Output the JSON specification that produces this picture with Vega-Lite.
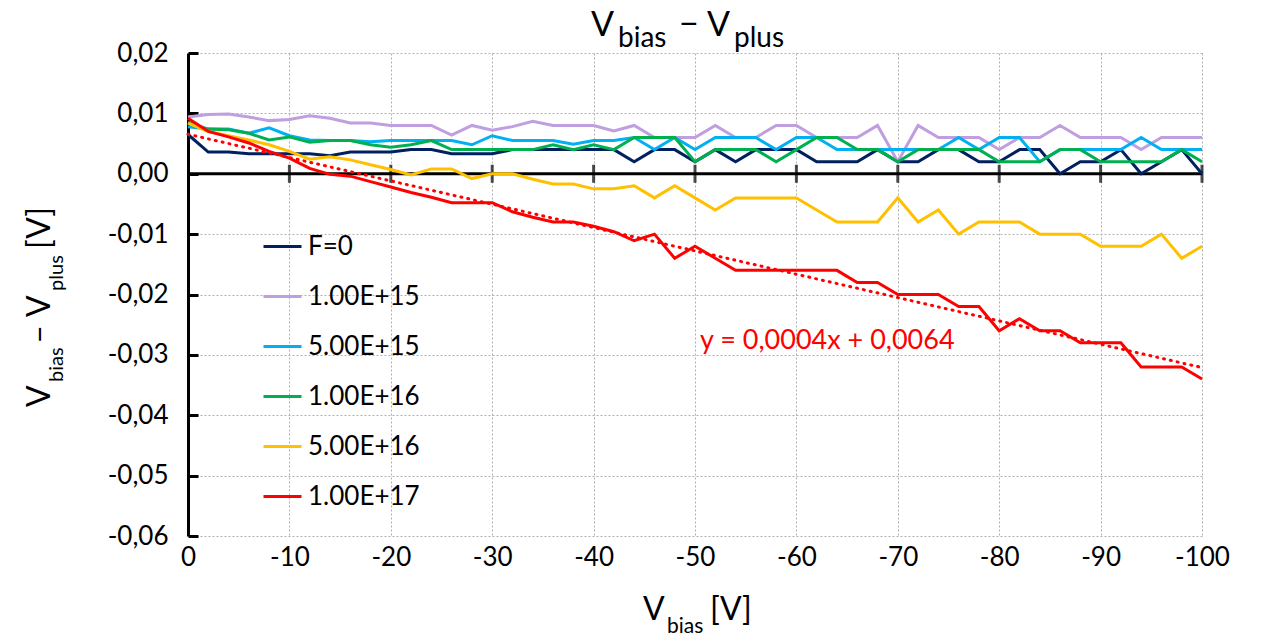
{
  "$schema": "https://vega.github.io/schema/vega-lite/v6.json",
  "width": 1014,
  "height": 483,
  "autosize": {"type": "none"},
  "padding": {"left": 188, "top": 53, "right": 74, "bottom": 106},
  "background": "white",
  "config": {
    "font": "Lato",
    "view": {"stroke": null},
    "locale": {"number": {"decimal": ",", "thousands": ".", "grouping": [3], "currency": ["", " €"], "minus": "-"}},
    "text": {"font": "Lato", "color": "black"}
  },
  "datasets": {
    "meas": [
      {"V":0,"F":"F=0","d":0.0065},{"V":-2,"F":"F=0","d":0.0036},{"V":-4,"F":"F=0","d":0.0036},{"V":-6,"F":"F=0","d":0.0033},{"V":-8,"F":"F=0","d":0.0033},{"V":-10,"F":"F=0","d":0.0033},{"V":-12,"F":"F=0","d":0.0033},{"V":-14,"F":"F=0","d":0.003},{"V":-16,"F":"F=0","d":0.0036},{"V":-18,"F":"F=0","d":0.0036},{"V":-20,"F":"F=0","d":0.0036},{"V":-22,"F":"F=0","d":0.004},{"V":-24,"F":"F=0","d":0.004},{"V":-26,"F":"F=0","d":0.0033},{"V":-28,"F":"F=0","d":0.0033},{"V":-30,"F":"F=0","d":0.0033},{"V":-32,"F":"F=0","d":0.004},{"V":-34,"F":"F=0","d":0.004},{"V":-36,"F":"F=0","d":0.004},{"V":-38,"F":"F=0","d":0.004},{"V":-40,"F":"F=0","d":0.004},{"V":-42,"F":"F=0","d":0.004},{"V":-44,"F":"F=0","d":0.002},{"V":-46,"F":"F=0","d":0.004},{"V":-48,"F":"F=0","d":0.004},{"V":-50,"F":"F=0","d":0.002},{"V":-52,"F":"F=0","d":0.004},{"V":-54,"F":"F=0","d":0.002},{"V":-56,"F":"F=0","d":0.004},{"V":-58,"F":"F=0","d":0.004},{"V":-60,"F":"F=0","d":0.004},{"V":-62,"F":"F=0","d":0.002},{"V":-64,"F":"F=0","d":0.002},{"V":-66,"F":"F=0","d":0.002},{"V":-68,"F":"F=0","d":0.004},{"V":-70,"F":"F=0","d":0.002},{"V":-72,"F":"F=0","d":0.002},{"V":-74,"F":"F=0","d":0.004},{"V":-76,"F":"F=0","d":0.004},{"V":-78,"F":"F=0","d":0.002},{"V":-80,"F":"F=0","d":0.002},{"V":-82,"F":"F=0","d":0.004},{"V":-84,"F":"F=0","d":0.004},{"V":-86,"F":"F=0","d":0},{"V":-88,"F":"F=0","d":0.002},{"V":-90,"F":"F=0","d":0.002},{"V":-92,"F":"F=0","d":0.004},{"V":-94,"F":"F=0","d":0},{"V":-96,"F":"F=0","d":0.002},{"V":-98,"F":"F=0","d":0.004},{"V":-100,"F":"F=0","d":0},
      {"V":0,"F":"1.00E+15","d":0.0094},{"V":-2,"F":"1.00E+15","d":0.0098},{"V":-4,"F":"1.00E+15","d":0.0099},{"V":-6,"F":"1.00E+15","d":0.0094},{"V":-8,"F":"1.00E+15","d":0.0088},{"V":-10,"F":"1.00E+15","d":0.009},{"V":-12,"F":"1.00E+15","d":0.0096},{"V":-14,"F":"1.00E+15","d":0.0092},{"V":-16,"F":"1.00E+15","d":0.0084},{"V":-18,"F":"1.00E+15","d":0.0084},{"V":-20,"F":"1.00E+15","d":0.008},{"V":-22,"F":"1.00E+15","d":0.008},{"V":-24,"F":"1.00E+15","d":0.008},{"V":-26,"F":"1.00E+15","d":0.0064},{"V":-28,"F":"1.00E+15","d":0.008},{"V":-30,"F":"1.00E+15","d":0.0072},{"V":-32,"F":"1.00E+15","d":0.0078},{"V":-34,"F":"1.00E+15","d":0.0087},{"V":-36,"F":"1.00E+15","d":0.008},{"V":-38,"F":"1.00E+15","d":0.008},{"V":-40,"F":"1.00E+15","d":0.008},{"V":-42,"F":"1.00E+15","d":0.0071},{"V":-44,"F":"1.00E+15","d":0.008},{"V":-46,"F":"1.00E+15","d":0.006},{"V":-48,"F":"1.00E+15","d":0.006},{"V":-50,"F":"1.00E+15","d":0.006},{"V":-52,"F":"1.00E+15","d":0.008},{"V":-54,"F":"1.00E+15","d":0.006},{"V":-56,"F":"1.00E+15","d":0.006},{"V":-58,"F":"1.00E+15","d":0.008},{"V":-60,"F":"1.00E+15","d":0.008},{"V":-62,"F":"1.00E+15","d":0.006},{"V":-64,"F":"1.00E+15","d":0.006},{"V":-66,"F":"1.00E+15","d":0.006},{"V":-68,"F":"1.00E+15","d":0.008},{"V":-70,"F":"1.00E+15","d":0.002},{"V":-72,"F":"1.00E+15","d":0.008},{"V":-74,"F":"1.00E+15","d":0.006},{"V":-76,"F":"1.00E+15","d":0.006},{"V":-78,"F":"1.00E+15","d":0.006},{"V":-80,"F":"1.00E+15","d":0.004},{"V":-82,"F":"1.00E+15","d":0.006},{"V":-84,"F":"1.00E+15","d":0.006},{"V":-86,"F":"1.00E+15","d":0.008},{"V":-88,"F":"1.00E+15","d":0.006},{"V":-90,"F":"1.00E+15","d":0.006},{"V":-92,"F":"1.00E+15","d":0.006},{"V":-94,"F":"1.00E+15","d":0.004},{"V":-96,"F":"1.00E+15","d":0.006},{"V":-98,"F":"1.00E+15","d":0.006},{"V":-100,"F":"1.00E+15","d":0.006},
      {"V":0,"F":"5.00E+15","d":0.0078},{"V":-2,"F":"5.00E+15","d":0.0074},{"V":-4,"F":"5.00E+15","d":0.0074},{"V":-6,"F":"5.00E+15","d":0.0067},{"V":-8,"F":"5.00E+15","d":0.0076},{"V":-10,"F":"5.00E+15","d":0.0063},{"V":-12,"F":"5.00E+15","d":0.0056},{"V":-14,"F":"5.00E+15","d":0.0055},{"V":-16,"F":"5.00E+15","d":0.0055},{"V":-18,"F":"5.00E+15","d":0.0053},{"V":-20,"F":"5.00E+15","d":0.0055},{"V":-22,"F":"5.00E+15","d":0.0055},{"V":-24,"F":"5.00E+15","d":0.0055},{"V":-26,"F":"5.00E+15","d":0.0055},{"V":-28,"F":"5.00E+15","d":0.0048},{"V":-30,"F":"5.00E+15","d":0.0063},{"V":-32,"F":"5.00E+15","d":0.0055},{"V":-34,"F":"5.00E+15","d":0.0055},{"V":-36,"F":"5.00E+15","d":0.0055},{"V":-38,"F":"5.00E+15","d":0.0049},{"V":-40,"F":"5.00E+15","d":0.0055},{"V":-42,"F":"5.00E+15","d":0.0055},{"V":-44,"F":"5.00E+15","d":0.006},{"V":-46,"F":"5.00E+15","d":0.004},{"V":-48,"F":"5.00E+15","d":0.006},{"V":-50,"F":"5.00E+15","d":0.004},{"V":-52,"F":"5.00E+15","d":0.006},{"V":-54,"F":"5.00E+15","d":0.006},{"V":-56,"F":"5.00E+15","d":0.006},{"V":-58,"F":"5.00E+15","d":0.004},{"V":-60,"F":"5.00E+15","d":0.006},{"V":-62,"F":"5.00E+15","d":0.006},{"V":-64,"F":"5.00E+15","d":0.004},{"V":-66,"F":"5.00E+15","d":0.004},{"V":-68,"F":"5.00E+15","d":0.004},{"V":-70,"F":"5.00E+15","d":0.004},{"V":-72,"F":"5.00E+15","d":0.004},{"V":-74,"F":"5.00E+15","d":0.004},{"V":-76,"F":"5.00E+15","d":0.006},{"V":-78,"F":"5.00E+15","d":0.004},{"V":-80,"F":"5.00E+15","d":0.006},{"V":-82,"F":"5.00E+15","d":0.006},{"V":-84,"F":"5.00E+15","d":0.002},{"V":-86,"F":"5.00E+15","d":0.004},{"V":-88,"F":"5.00E+15","d":0.004},{"V":-90,"F":"5.00E+15","d":0.004},{"V":-92,"F":"5.00E+15","d":0.004},{"V":-94,"F":"5.00E+15","d":0.006},{"V":-96,"F":"5.00E+15","d":0.004},{"V":-98,"F":"5.00E+15","d":0.004},{"V":-100,"F":"5.00E+15","d":0.004},
      {"V":0,"F":"1.00E+16","d":0.0085},{"V":-2,"F":"1.00E+16","d":0.0074},{"V":-4,"F":"1.00E+16","d":0.0073},{"V":-6,"F":"1.00E+16","d":0.0067},{"V":-8,"F":"1.00E+16","d":0.0056},{"V":-10,"F":"1.00E+16","d":0.0061},{"V":-12,"F":"1.00E+16","d":0.0052},{"V":-14,"F":"1.00E+16","d":0.0055},{"V":-16,"F":"1.00E+16","d":0.0055},{"V":-18,"F":"1.00E+16","d":0.0048},{"V":-20,"F":"1.00E+16","d":0.0044},{"V":-22,"F":"1.00E+16","d":0.0048},{"V":-24,"F":"1.00E+16","d":0.0055},{"V":-26,"F":"1.00E+16","d":0.004},{"V":-28,"F":"1.00E+16","d":0.004},{"V":-30,"F":"1.00E+16","d":0.004},{"V":-32,"F":"1.00E+16","d":0.004},{"V":-34,"F":"1.00E+16","d":0.004},{"V":-36,"F":"1.00E+16","d":0.0048},{"V":-38,"F":"1.00E+16","d":0.004},{"V":-40,"F":"1.00E+16","d":0.0048},{"V":-42,"F":"1.00E+16","d":0.004},{"V":-44,"F":"1.00E+16","d":0.006},{"V":-46,"F":"1.00E+16","d":0.006},{"V":-48,"F":"1.00E+16","d":0.006},{"V":-50,"F":"1.00E+16","d":0.002},{"V":-52,"F":"1.00E+16","d":0.004},{"V":-54,"F":"1.00E+16","d":0.004},{"V":-56,"F":"1.00E+16","d":0.004},{"V":-58,"F":"1.00E+16","d":0.002},{"V":-60,"F":"1.00E+16","d":0.004},{"V":-62,"F":"1.00E+16","d":0.006},{"V":-64,"F":"1.00E+16","d":0.006},{"V":-66,"F":"1.00E+16","d":0.004},{"V":-68,"F":"1.00E+16","d":0.004},{"V":-70,"F":"1.00E+16","d":0.002},{"V":-72,"F":"1.00E+16","d":0.004},{"V":-74,"F":"1.00E+16","d":0.004},{"V":-76,"F":"1.00E+16","d":0.004},{"V":-78,"F":"1.00E+16","d":0.004},{"V":-80,"F":"1.00E+16","d":0.002},{"V":-82,"F":"1.00E+16","d":0.002},{"V":-84,"F":"1.00E+16","d":0.002},{"V":-86,"F":"1.00E+16","d":0.004},{"V":-88,"F":"1.00E+16","d":0.004},{"V":-90,"F":"1.00E+16","d":0.002},{"V":-92,"F":"1.00E+16","d":0.002},{"V":-94,"F":"1.00E+16","d":0.002},{"V":-96,"F":"1.00E+16","d":0.002},{"V":-98,"F":"1.00E+16","d":0.004},{"V":-100,"F":"1.00E+16","d":0.002},
      {"V":0,"F":"5.00E+16","d":0.0084},{"V":-2,"F":"5.00E+16","d":0.007},{"V":-4,"F":"5.00E+16","d":0.0063},{"V":-6,"F":"5.00E+16","d":0.0056},{"V":-8,"F":"5.00E+16","d":0.0048},{"V":-10,"F":"5.00E+16","d":0.0037},{"V":-12,"F":"5.00E+16","d":0.0024},{"V":-14,"F":"5.00E+16","d":0.0028},{"V":-16,"F":"5.00E+16","d":0.0023},{"V":-18,"F":"5.00E+16","d":0.0015},{"V":-20,"F":"5.00E+16","d":0.0007},{"V":-22,"F":"5.00E+16","d":-0.0002},{"V":-24,"F":"5.00E+16","d":0.0008},{"V":-26,"F":"5.00E+16","d":0.0008},{"V":-28,"F":"5.00E+16","d":-0.0008},{"V":-30,"F":"5.00E+16","d":0},{"V":-32,"F":"5.00E+16","d":0},{"V":-34,"F":"5.00E+16","d":-0.0009},{"V":-36,"F":"5.00E+16","d":-0.0017},{"V":-38,"F":"5.00E+16","d":-0.0017},{"V":-40,"F":"5.00E+16","d":-0.0025},{"V":-42,"F":"5.00E+16","d":-0.0025},{"V":-44,"F":"5.00E+16","d":-0.002},{"V":-46,"F":"5.00E+16","d":-0.004},{"V":-48,"F":"5.00E+16","d":-0.002},{"V":-50,"F":"5.00E+16","d":-0.004},{"V":-52,"F":"5.00E+16","d":-0.006},{"V":-54,"F":"5.00E+16","d":-0.004},{"V":-56,"F":"5.00E+16","d":-0.004},{"V":-58,"F":"5.00E+16","d":-0.004},{"V":-60,"F":"5.00E+16","d":-0.004},{"V":-62,"F":"5.00E+16","d":-0.006},{"V":-64,"F":"5.00E+16","d":-0.008},{"V":-66,"F":"5.00E+16","d":-0.008},{"V":-68,"F":"5.00E+16","d":-0.008},{"V":-70,"F":"5.00E+16","d":-0.004},{"V":-72,"F":"5.00E+16","d":-0.008},{"V":-74,"F":"5.00E+16","d":-0.006},{"V":-76,"F":"5.00E+16","d":-0.01},{"V":-78,"F":"5.00E+16","d":-0.008},{"V":-80,"F":"5.00E+16","d":-0.008},{"V":-82,"F":"5.00E+16","d":-0.008},{"V":-84,"F":"5.00E+16","d":-0.01},{"V":-86,"F":"5.00E+16","d":-0.01},{"V":-88,"F":"5.00E+16","d":-0.01},{"V":-90,"F":"5.00E+16","d":-0.012},{"V":-92,"F":"5.00E+16","d":-0.012},{"V":-94,"F":"5.00E+16","d":-0.012},{"V":-96,"F":"5.00E+16","d":-0.01},{"V":-98,"F":"5.00E+16","d":-0.014},{"V":-100,"F":"5.00E+16","d":-0.012},
      {"V":0,"F":"1.00E+17","d":0.0092},{"V":-2,"F":"1.00E+17","d":0.007},{"V":-4,"F":"1.00E+17","d":0.0061},{"V":-6,"F":"1.00E+17","d":0.0051},{"V":-8,"F":"1.00E+17","d":0.0037},{"V":-10,"F":"1.00E+17","d":0.0026},{"V":-12,"F":"1.00E+17","d":0.0009},{"V":-14,"F":"1.00E+17","d":-0.0001},{"V":-16,"F":"1.00E+17","d":-0.0004},{"V":-18,"F":"1.00E+17","d":-0.0013},{"V":-20,"F":"1.00E+17","d":-0.0022},{"V":-22,"F":"1.00E+17","d":-0.0031},{"V":-24,"F":"1.00E+17","d":-0.0039},{"V":-26,"F":"1.00E+17","d":-0.0048},{"V":-28,"F":"1.00E+17","d":-0.0048},{"V":-30,"F":"1.00E+17","d":-0.0048},{"V":-32,"F":"1.00E+17","d":-0.0063},{"V":-34,"F":"1.00E+17","d":-0.0072},{"V":-36,"F":"1.00E+17","d":-0.008},{"V":-38,"F":"1.00E+17","d":-0.008},{"V":-40,"F":"1.00E+17","d":-0.0087},{"V":-42,"F":"1.00E+17","d":-0.0096},{"V":-44,"F":"1.00E+17","d":-0.0111},{"V":-46,"F":"1.00E+17","d":-0.01},{"V":-48,"F":"1.00E+17","d":-0.014},{"V":-50,"F":"1.00E+17","d":-0.012},{"V":-52,"F":"1.00E+17","d":-0.014},{"V":-54,"F":"1.00E+17","d":-0.016},{"V":-56,"F":"1.00E+17","d":-0.016},{"V":-58,"F":"1.00E+17","d":-0.016},{"V":-60,"F":"1.00E+17","d":-0.016},{"V":-62,"F":"1.00E+17","d":-0.016},{"V":-64,"F":"1.00E+17","d":-0.016},{"V":-66,"F":"1.00E+17","d":-0.018},{"V":-68,"F":"1.00E+17","d":-0.018},{"V":-70,"F":"1.00E+17","d":-0.02},{"V":-72,"F":"1.00E+17","d":-0.02},{"V":-74,"F":"1.00E+17","d":-0.02},{"V":-76,"F":"1.00E+17","d":-0.022},{"V":-78,"F":"1.00E+17","d":-0.022},{"V":-80,"F":"1.00E+17","d":-0.026},{"V":-82,"F":"1.00E+17","d":-0.024},{"V":-84,"F":"1.00E+17","d":-0.026},{"V":-86,"F":"1.00E+17","d":-0.026},{"V":-88,"F":"1.00E+17","d":-0.028},{"V":-90,"F":"1.00E+17","d":-0.028},{"V":-92,"F":"1.00E+17","d":-0.028},{"V":-94,"F":"1.00E+17","d":-0.032},{"V":-96,"F":"1.00E+17","d":-0.032},{"V":-98,"F":"1.00E+17","d":-0.032},{"V":-100,"F":"1.00E+17","d":-0.034}
    ],
    "crossticks": [{"V":-10},{"V":-20},{"V":-30},{"V":-40},{"V":-50},{"V":-60},{"V":-70},{"V":-80},{"V":-90},{"V":-100}],
    "one": [{}]
  },
  "encoding": {
    "x": {"type": "quantitative", "scale": {"domain": [0, -100], "nice": false, "zero": false},
      "axis": {"values": [0,-10,-20,-30,-40,-50,-60,-70,-80,-90,-100], "format": "d", "title": null, "labelFontSize": 26, "labelColor": "black", "labelPadding": 8, "ticks": false, "domain": false, "grid": true, "gridColor": "#b0b0b0", "gridDash": [2, 2], "gridWidth": 1, "labelFlush": false}},
    "y": {"type": "quantitative", "scale": {"domain": [-0.06, 0.02], "nice": false, "zero": false},
      "axis": {"values": [-0.06,-0.05,-0.04,-0.03,-0.02,-0.01,0,0.01,0.02], "format": ".2f", "title": null, "labelFontSize": 26, "labelColor": "black", "labelPadding": 30, "ticks": true, "tickSize": -10, "tickWidth": 3, "tickColor": "black", "domain": true, "domainColor": "black", "domainWidth": 3, "grid": true, "gridColor": "#b0b0b0", "gridDash": [2, 2], "gridWidth": 1}}
  },
  "layer": [
    {
      "data": {"name": "one"},
      "mark": {"type": "rule", "color": "black", "strokeWidth": 3},
      "encoding": {"y": {"datum": 0}}
    },
    {
      "data": {"name": "crossticks"},
      "mark": {"type": "tick", "orient": "vertical", "color": "black", "thickness": 3, "size": 18},
      "encoding": {"x": {"field": "V"}, "y": {"datum": 0}}
    },
    {
      "data": {"name": "meas"},
      "mark": {"type": "line", "strokeWidth": 3},
      "encoding": {
        "x": {"field": "V"},
        "y": {"field": "d"},
        "color": {"field": "F", "type": "nominal",
          "scale": {"domain": ["F=0", "1.00E+15", "5.00E+15", "1.00E+16", "5.00E+16", "1.00E+17"],
                    "range": ["#002060", "#bf9fe0", "#00b0f0", "#00b050", "#ffc000", "#ff0000"]},
          "legend": {"title": null, "orient": "none", "legendX": 74, "legendY": 173, "symbolType": "stroke", "symbolSize": 1444, "symbolStrokeWidth": 3, "labelFontSize": 26, "labelColor": "black", "rowPadding": 16, "labelOffset": 5, "padding": 0}},
        "order": {"field": "V", "type": "quantitative", "sort": "descending"}
      }
    },
    {
      "data": {"name": "meas"},
      "transform": [
        {"filter": "datum.F === '1.00E+17'"},
        {"regression": "d", "on": "V", "method": "linear"}
      ],
      "mark": {"type": "line", "color": "#ff0000", "strokeWidth": 3, "strokeDash": [1, 6], "strokeCap": "round"},
      "encoding": {"x": {"field": "V"}, "y": {"field": "d"}}
    },
    {
      "data": {"name": "one"},
      "mark": {"type": "text", "text": "y = 0,0004x + 0,0064", "color": "#ff0000", "fontSize": 27, "align": "left", "baseline": "alphabetic"},
      "encoding": {"x": {"datum": -50.5}, "y": {"datum": -0.029}}
    },
    {"data": {"name": "one"}, "mark": {"type": "text", "text": "V", "fontSize": 34, "align": "left", "baseline": "alphabetic", "dx": -104, "dy": -17}, "encoding": {"x": {"datum": -50}, "y": {"datum": 0.02}}},
    {"data": {"name": "one"}, "mark": {"type": "text", "text": "bias", "fontSize": 28, "align": "left", "baseline": "alphabetic", "dx": -77, "dy": -6}, "encoding": {"x": {"datum": -50}, "y": {"datum": 0.02}}},
    {"data": {"name": "one"}, "mark": {"type": "text", "text": "−", "fontSize": 34, "align": "left", "baseline": "alphabetic", "dx": -16, "dy": -17}, "encoding": {"x": {"datum": -50}, "y": {"datum": 0.02}}},
    {"data": {"name": "one"}, "mark": {"type": "text", "text": "V", "fontSize": 34, "align": "left", "baseline": "alphabetic", "dx": 12, "dy": -17}, "encoding": {"x": {"datum": -50}, "y": {"datum": 0.02}}},
    {"data": {"name": "one"}, "mark": {"type": "text", "text": "plus", "fontSize": 28, "align": "left", "baseline": "alphabetic", "dx": 39, "dy": -6}, "encoding": {"x": {"datum": -50}, "y": {"datum": 0.02}}},
    {"data": {"name": "one"}, "mark": {"type": "text", "text": "V", "fontSize": 32, "align": "left", "baseline": "alphabetic", "dx": -52, "dy": 84}, "encoding": {"x": {"datum": -50}, "y": {"datum": -0.06}}},
    {"data": {"name": "one"}, "mark": {"type": "text", "text": "bias", "fontSize": 21, "align": "left", "baseline": "alphabetic", "dx": -28, "dy": 97}, "encoding": {"x": {"datum": -50}, "y": {"datum": -0.06}}},
    {"data": {"name": "one"}, "mark": {"type": "text", "text": "[V]", "fontSize": 32, "align": "left", "baseline": "alphabetic", "dx": 15, "dy": 84}, "encoding": {"x": {"datum": -50}, "y": {"datum": -0.06}}},
    {"data": {"name": "one"}, "mark": {"type": "text", "text": "V", "fontSize": 32, "angle": 270, "align": "left", "baseline": "alphabetic", "dx": -52, "dy": -138}, "encoding": {"x": {"datum": 0}, "y": {"datum": -0.03}}},
    {"data": {"name": "one"}, "mark": {"type": "text", "text": "bias", "fontSize": 20, "angle": 270, "align": "left", "baseline": "alphabetic", "dx": -27, "dy": -125}, "encoding": {"x": {"datum": 0}, "y": {"datum": -0.03}}},
    {"data": {"name": "one"}, "mark": {"type": "text", "text": "−", "fontSize": 30, "angle": 270, "align": "left", "baseline": "alphabetic", "dx": 12, "dy": -138}, "encoding": {"x": {"datum": 0}, "y": {"datum": -0.03}}},
    {"data": {"name": "one"}, "mark": {"type": "text", "text": "V", "fontSize": 32, "angle": 270, "align": "left", "baseline": "alphabetic", "dx": 38, "dy": -138}, "encoding": {"x": {"datum": 0}, "y": {"datum": -0.03}}},
    {"data": {"name": "one"}, "mark": {"type": "text", "text": "plus", "fontSize": 20, "angle": 270, "align": "left", "baseline": "alphabetic", "dx": 64, "dy": -125}, "encoding": {"x": {"datum": 0}, "y": {"datum": -0.03}}},
    {"data": {"name": "one"}, "mark": {"type": "text", "text": "[V]", "fontSize": 32, "angle": 270, "align": "left", "baseline": "alphabetic", "dx": 106, "dy": -138}, "encoding": {"x": {"datum": 0}, "y": {"datum": -0.03}}}
  ]
}
